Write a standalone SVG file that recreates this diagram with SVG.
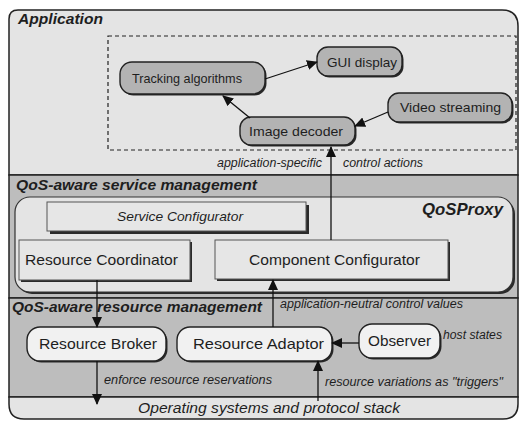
<svg xmlns="http://www.w3.org/2000/svg" width="520" height="421" viewBox="0 0 520 421">
<style>
text{font-family:"Liberation Sans",Arial,sans-serif;fill:#1e1e1e}
.hdr{font-weight:bold;font-style:italic;font-size:14.5px}
.node{font-size:13.5px}
.big{font-size:15px}
.lbl{font-style:italic;font-size:12px}
.sec{stroke:#222;stroke-width:1.5}
.pillA{fill:#b3b3b3;stroke:#222;stroke-width:1.4}
.pillR{fill:#f1f1f1;stroke:#222;stroke-width:1.4}
.shadow{fill:#2a2a2a}
.box{fill:#e6e6e6;stroke:#555;stroke-width:1}
.conn{stroke:#111;stroke-width:1.3;fill:none;marker-end:url(#ah)}
</style>
<defs>
<marker id="ah" markerWidth="11" markerHeight="10" refX="10" refY="5" orient="auto" markerUnits="userSpaceOnUse">
<path d="M0,0 L11,5 L0,10 Z" fill="#111"/>
</marker>
</defs>

<g id="layers">
<path class="sec" d="M9,175 L9,19 Q9,10 18,10 L502,10 Q518,10 518,26 L518,175 Z" fill="#e4e4e4"/>
<rect class="sec" x="9" y="175" width="509" height="123" fill="#bdbdbd"/>
<rect class="sec" x="9" y="298" width="509" height="99" fill="#bdbdbd"/>
<path class="sec" d="M9,397 L9,404 Q9,419 24,419 L503,419 Q518,419 518,404 L518,397 Z" fill="#e4e4e4"/>
<text class="hdr" x="18" y="24" textLength="85" lengthAdjust="spacingAndGlyphs">Application</text>
<text class="hdr" x="16" y="190" textLength="241" lengthAdjust="spacingAndGlyphs">QoS-aware service management</text>
<text class="hdr" x="12" y="312" textLength="250" lengthAdjust="spacingAndGlyphs">QoS-aware resource management</text>
<text class="big" x="138" y="413" font-style="italic" textLength="262" lengthAdjust="spacingAndGlyphs">Operating systems and protocol stack</text>
</g>

<g id="app-area">
<rect x="108" y="36" width="408" height="114" fill="none" stroke="#222" stroke-width="1.2" stroke-dasharray="4,3"/>
</g>

<g id="qosproxy">
<rect class="shadow" x="17" y="199" width="498" height="95" rx="15"/>
<rect x="15" y="197" width="498" height="95" rx="15" fill="#e4e4e4" stroke="#333" stroke-width="1.2"/>
<text x="422" y="215" font-weight="bold" font-style="italic" font-size="16.5" textLength="81" lengthAdjust="spacingAndGlyphs">QoSProxy</text>
</g>

<g id="service-configurator">
<rect class="shadow" x="50" y="205" width="259" height="29"/>
<rect class="box" x="47" y="202" width="259" height="29"/>
<text x="117" y="221" font-style="italic" font-size="13.5" textLength="126" lengthAdjust="spacingAndGlyphs">Service Configurator</text>
</g>

<g id="resource-coordinator">
<rect class="shadow" x="21" y="242" width="171" height="40"/>
<rect class="box" x="19" y="240" width="171" height="40"/>
<text class="big" x="25" y="265" textLength="153" lengthAdjust="spacingAndGlyphs">Resource Coordinator</text>
</g>

<g id="component-configurator">
<rect class="shadow" x="217" y="242" width="233" height="39"/>
<rect class="box" x="215" y="240" width="233" height="39"/>
<text class="big" x="249" y="265" textLength="171" lengthAdjust="spacingAndGlyphs">Component Configurator</text>
</g>

<g id="tracking-algorithms">
<rect class="shadow" x="121.5" y="63.5" width="145" height="32" rx="12"/>
<rect class="pillA" x="120" y="62" width="145" height="32" rx="12"/>
<text class="node" x="132" y="83" textLength="110" lengthAdjust="spacingAndGlyphs">Tracking algorithms</text>
</g>

<g id="gui-display">
<rect class="shadow" x="318.5" y="48.5" width="85" height="29" rx="11"/>
<rect class="pillA" x="317" y="47" width="85" height="29" rx="11"/>
<text class="node" x="327" y="66.5" textLength="70" lengthAdjust="spacingAndGlyphs">GUI display</text>
</g>

<g id="video-streaming">
<rect class="shadow" x="389.5" y="94.5" width="124" height="29" rx="11"/>
<rect class="pillA" x="388" y="93" width="124" height="29" rx="11"/>
<text class="node" x="400" y="112" textLength="101" lengthAdjust="spacingAndGlyphs">Video streaming</text>
</g>

<g id="image-decoder">
<rect class="shadow" x="241.5" y="118.5" width="115" height="28" rx="11"/>
<rect class="pillA" x="240" y="117" width="115" height="28" rx="11"/>
<text class="node" x="249" y="136" textLength="94" lengthAdjust="spacingAndGlyphs">Image decoder</text>
</g>

<g id="resource-broker">
<rect class="shadow" x="28.5" y="328.5" width="139" height="34" rx="13"/>
<rect class="pillR" x="27" y="327" width="139" height="34" rx="13"/>
<text class="big" x="39" y="349" textLength="118" lengthAdjust="spacingAndGlyphs">Resource Broker</text>
</g>

<g id="resource-adaptor">
<rect class="shadow" x="178.5" y="328.5" width="155" height="34" rx="13"/>
<rect class="pillR" x="177" y="327" width="155" height="34" rx="13"/>
<text class="big" x="193" y="349" textLength="131" lengthAdjust="spacingAndGlyphs">Resource Adaptor</text>
</g>

<g id="observer">
<rect class="shadow" x="360.5" y="325.5" width="81" height="34" rx="13"/>
<rect class="pillR" x="359" y="324" width="81" height="34" rx="13"/>
<text class="big" x="368" y="346" textLength="63" lengthAdjust="spacingAndGlyphs">Observer</text>
</g>

<g id="connectors">
<line class="conn" x1="265" y1="79" x2="317" y2="62"/>
<line class="conn" x1="250" y1="118" x2="223" y2="96"/>
<line class="conn" x1="388" y1="112" x2="355" y2="126"/>
<line class="conn" x1="331" y1="240" x2="331" y2="147"/>
<line class="conn" x1="97" y1="280" x2="97" y2="327"/>
<line class="conn" x1="97" y1="361" x2="97" y2="404"/>
<line class="conn" x1="273" y1="327" x2="273" y2="280"/>
<line class="conn" x1="359" y1="343" x2="332" y2="343"/>
<line class="conn" x1="318" y1="401" x2="318" y2="361"/>
</g>

<g id="labels">
<text class="lbl" x="217" y="167" textLength="105" lengthAdjust="spacingAndGlyphs">application-specific</text>
<text class="lbl" x="343" y="167" textLength="80" lengthAdjust="spacingAndGlyphs">control actions</text>
<text class="lbl" x="280" y="308" textLength="183" lengthAdjust="spacingAndGlyphs">application-neutral control values</text>
<text class="lbl" x="443" y="339" textLength="59" lengthAdjust="spacingAndGlyphs">host states</text>
<text class="lbl" x="104" y="384" textLength="168" lengthAdjust="spacingAndGlyphs">enforce resource reservations</text>
<text class="lbl" x="325" y="386" textLength="178" lengthAdjust="spacingAndGlyphs">resource variations as "triggers"</text>
</g>
</svg>
